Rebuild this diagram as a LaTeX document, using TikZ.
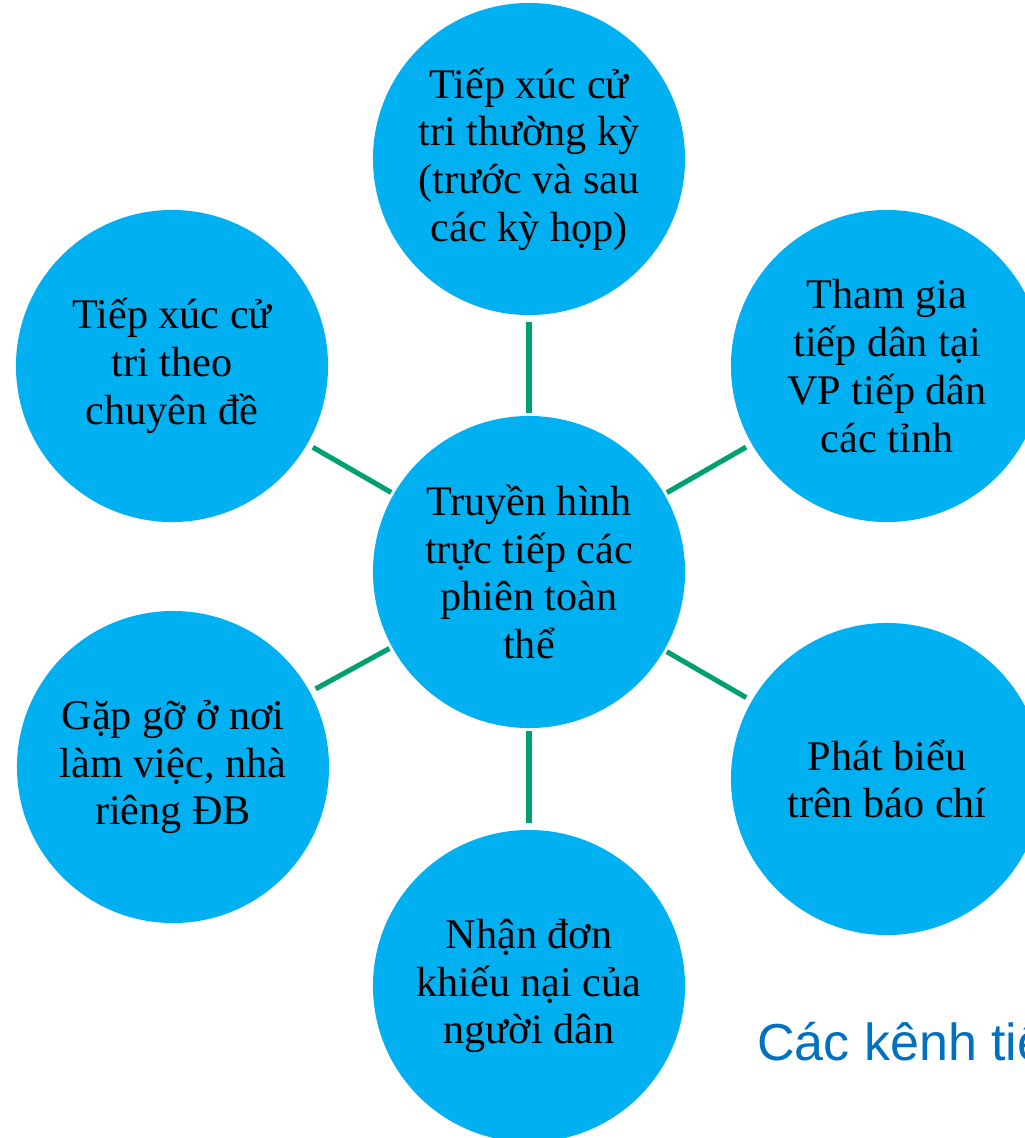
\documentclass[tikz,border=0pt]{standalone}
\usepackage{fontspec}
\setmainfont{Liberation Serif}
\newfontfamily\headfont{Liberation Sans}
\usepackage{xcolor}
\usepackage{tikz}

\definecolor{bubblefill}{RGB}{0,176,240}
\definecolor{spoke}{RGB}{0,160,112}
\definecolor{headblue}{RGB}{0,112,192}

\begin{document}
\begin{tikzpicture}[
    x=0.025cm, y=-0.025cm,
    every node/.style={font=\fontsize{30}{34}\selectfont},
    bubble/.style={circle, fill=bubblefill, inner sep=0pt,
                   minimum size=7.8cm, align=center},
    link/.style={draw=spoke, line width=3.6pt,
                 shorten <=2pt, shorten >=4.5pt},
    head/.style={font=\headfont\fontsize{37}{40}\selectfont, text=headblue,
                 anchor=base west, inner sep=0pt},
  ]
  %% ---- Page frame (circles run off the right and bottom edges) ----
  \useasboundingbox (0,0) rectangle (1025,1138);
  \clip (0,0) rectangle (1025,1138);
  %% ---- Nodes ----
  % Hub
  \node[bubble] (hub) at (529,572) {Truyền hình\\trực tiếp các\\phiên toàn\\thể};
  % Ring, clockwise from top
  \node[bubble] (top)   at (529,159) {Tiếp xúc cử\\tri thường kỳ\\(trước và sau\\các kỳ họp)};
  \node[bubble] (upr)   at (887,366) {Tham gia\\tiếp dân tại\\VP tiếp dân\\các tỉnh};
  \node[bubble] (lowr)  at (887,779) {Phát biểu\\trên báo chí};
  \node[bubble] (bot)   at (529,986) {Nhận đơn\\khiếu nại của\\người dân};
  \node[bubble] (lowl)  at (173,767) {Gặp gỡ ở nơi\\làm việc, nhà\\riêng ĐB};
  \node[bubble] (upl)   at (172,366) {Tiếp xúc cử\\tri theo\\chuyên đề};
  % Heading (cut by the right edge)
  \node[head] (title) at (757,1060) {Các kênh tiếp};
  %% ---- Spokes ----
  \draw[link] (hub) -- (top);
  \draw[link] (hub) -- (upr);
  \draw[link] (hub) -- (lowr);
  \draw[link] (hub) -- (bot);
  \draw[link] (hub) -- (lowl);
  \draw[link] (hub) -- (upl);
\end{tikzpicture}
\end{document}
